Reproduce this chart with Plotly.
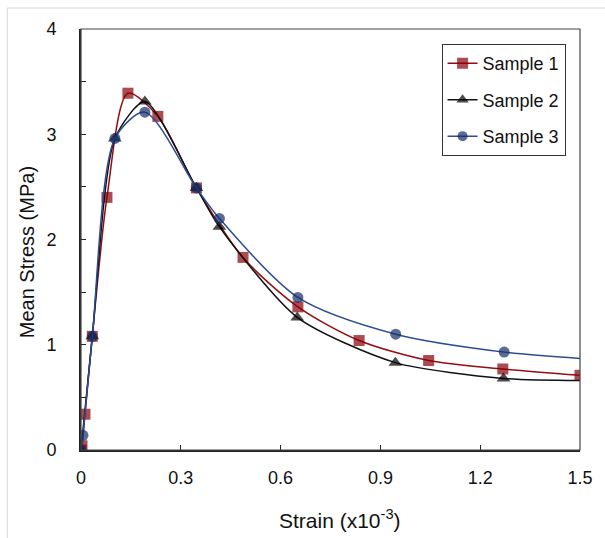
import plotly.graph_objects as go

# ---- data ----
s1_x = [0, 0.003, 0.012, 0.034, 0.078, 0.141, 0.231, 0.347, 0.487, 0.652, 0.836, 1.045, 1.268, 1.5]
s1_y = [0, 0.04, 0.34, 1.08, 2.40, 3.39, 3.17, 2.49, 1.83, 1.36, 1.04, 0.85, 0.77, 0.71]

s2_x = [0, 0.034, 0.102, 0.192, 0.347, 0.416, 0.650, 0.945, 1.270, 1.5]
s2_y = [0, 1.08, 2.96, 3.31, 2.49, 2.12, 1.26, 0.83, 0.68, 0.66]

s3_x = [0, 0.006, 0.034, 0.102, 0.192, 0.347, 0.416, 0.652, 0.946, 1.272, 1.5]
s3_y = [0, 0.14, 1.08, 2.96, 3.21, 2.49, 2.20, 1.45, 1.10, 0.93, 0.87]

names = ["Sample 1", "Sample 2", "Sample 3"]
x_ticks = [0, 0.3, 0.6, 0.9, 1.2, 1.5]
x_labels = ["0", "0.3", "0.6", "0.9", "1.2", "1.5"]
y_ticks = [0, 1, 2, 3, 4]
y_labels = ["0", "1", "2", "3", "4"]

font = "Liberation Sans, Arial, sans-serif"

fig = go.Figure()

def sizes(n, s, last_hidden):
    out = [s] * n
    if last_hidden:
        out[-1] = 0
    return out

RED = "#880008"
BLACK = "#000000"
NAVY = "#132E66"

fig.add_trace(go.Scatter(
    x=s1_x, y=s1_y, name=names[0], mode="lines+markers", legendgroup="a",
    line=dict(color="#950C12", width=1.5, shape="spline", smoothing=0.8),
    marker=dict(symbol="square", size=sizes(len(s1_x), 11, False), color=RED,
                line=dict(width=0))))
fig.add_trace(go.Scatter(
    x=s2_x, y=s2_y, name=names[1], mode="lines+markers", legendgroup="b",
    line=dict(color="#111111", width=1.5, shape="spline", smoothing=0.7),
    marker=dict(symbol="triangle-up", size=sizes(len(s2_x), 12, True), color=BLACK,
                line=dict(width=0))))
fig.add_trace(go.Scatter(
    x=s3_x, y=s3_y, name=names[2], mode="lines+markers", legendgroup="c",
    line=dict(color="#2C4D92", width=1.5, shape="spline", smoothing=0.8),
    marker=dict(symbol="circle", size=sizes(len(s3_x), 11, True), color=NAVY,
                line=dict(width=0))))

fig.update_layout(
    width=605, height=538,
    margin=dict(l=81, r=23, t=29, b=88),
    paper_bgcolor="white", plot_bgcolor="white",
    font=dict(family=font, size=18, color="#111111"),
    showlegend=True,
    legend=dict(x=0.7226, y=0.964, xanchor="left", yanchor="top",
                bgcolor="white", bordercolor="#333333", borderwidth=1,
                font=dict(size=18, color="#111111"), tracegroupgap=10,
                itemwidth=30),
    xaxis=dict(range=[0, 1.5], tickvals=x_ticks, ticktext=x_labels,
               ticks="inside", ticklen=5, tickcolor="#222222",
               showline=True, linecolor="#222222", linewidth=2,
               showgrid=False, zeroline=False, ticklabelstandoff=10,
               tickfont=dict(size=18)),
    yaxis=dict(range=[0, 4], tickvals=y_ticks, ticktext=y_labels,
               ticks="inside", ticklen=5, tickcolor="#222222",
               minor=dict(dtick=0.5, ticks="inside", ticklen=5, tickcolor="#222222"),
               showline=True, linecolor="#222222", linewidth=2,
               showgrid=False, zeroline=False, ticklabelstandoff=19,
               tickfont=dict(size=18)),
    shapes=[
        dict(type="rect", xref="paper", yref="paper", x0=0, y0=0, x1=1, y1=1,
             line=dict(color="#444444", width=1.2), layer="above"),
        dict(type="rect", xref="paper", yref="paper",
             x0=(7 - 81) / 501, y0=(450 - 560) / 421, x1=(620 - 81) / 501, y1=(450 - 8) / 421,
             line=dict(color="#D8D8D8", width=1), layer="below"),
    ],
    annotations=[
        dict(text="Strain (x10<sup>-3</sup>)", xref="paper", yref="paper",
             x=(341 - 81) / 501, y=(450 - 519) / 421, xanchor="center", yanchor="middle",
             showarrow=False, font=dict(size=21, color="#111111")),
        dict(text="Mean Stress (MPa)", xref="paper", yref="paper",
             x=(27 - 81) / 501, y=(450 - 252) / 421, xanchor="center", yanchor="middle",
             textangle=-90, showarrow=False, font=dict(size=20, color="#111111")),
    ],
)

fig.write_html("out.html")
